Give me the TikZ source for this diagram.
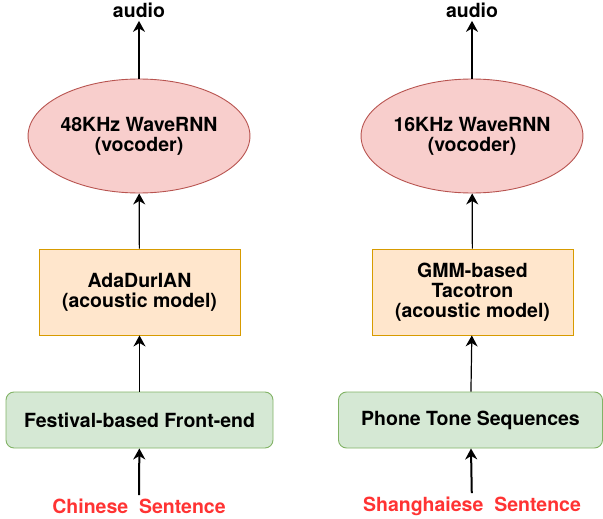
\documentclass[tikz,border=0pt]{standalone}
\usepackage{fontspec}
\setmainfont{TeX Gyre Heros}
\usetikzlibrary{shapes.geometric,arrows.meta}

\definecolor{vocfill}{HTML}{F8CECC}
\definecolor{vocline}{HTML}{B85450}
\definecolor{modfill}{HTML}{FFE6CC}
\definecolor{modline}{HTML}{D79B00}
\definecolor{fefill}{HTML}{D5E8D4}
\definecolor{feline}{HTML}{82B366}
\definecolor{senred}{HTML}{FF3333}

\tikzset{
  lbl/.style={font=\fontsize{19.5}{20}\selectfont\bfseries, align=center},
  vocoder/.style={lbl, ellipse, draw=vocline, fill=vocfill, inner sep=0pt,
    line width=0.9pt, minimum width=200pt, minimum height=114pt},
  acoustic/.style={lbl, rectangle, draw=modline, fill=modfill, inner sep=0pt,
    line width=0.9pt, minimum width=201pt, minimum height=86pt},
  frontend/.style={lbl, rectangle, rounded corners=8pt, draw=feline, fill=fefill,
    inner sep=0pt, line width=0.9pt, minimum height=56pt},
  flow/.style={-{Stealth[length=11pt,width=12pt,inset=3.5pt]}, line width=1.2pt},
}

\begin{document}
\begin{tikzpicture}[x=1pt,y=-1pt]
      \useasboundingbox (0,0) rectangle (603,519);
      % left: mandarin system
      \node[lbl] (audA) at (139,10) {audio};
      \node[vocoder] (vocA) at (139,136) {48KHz WaveRNN\\(vocoder)};
      \node[acoustic] (modA) at (139.5,292) {AdaDurIAN\\(acoustic model)};
      \node[frontend, minimum width=267pt] (feA) at (139.5,420) {Festival-based Front-end};
      \node[lbl, text=senred] (senA) at (139,506) {Chinese~ Sentence};
      % right: shanghainese system
      \node[lbl] (audB) at (472,10) {audio};
      \node[vocoder] (vocB) at (472,136) {16KHz WaveRNN\\(vocoder)};
      \node[acoustic] (modB) at (472.5,292) {GMM-based\\Tacotron\\(acoustic model)};
      \node[frontend, minimum width=264pt] (feB) at (470.5,420) {Phone Tone Sequences};
      \node[lbl, text=senred] (senB) at (472,506) {Shanghaiese~ Sentence};
      % arrows, bottom to top
      \draw[flow, line width=2pt] (senA) -- (feA);
      \draw[flow] (feA) -- (modA);
      \draw[flow] (modA) -- (vocA);
      \draw[flow] (vocA) -- (audA);
      \draw[flow, line width=2pt] (senB) -- (feB);
      \draw[flow] (feB) -- (modB);
      \draw[flow] (modB) -- (vocB);
      \draw[flow] (vocB) -- (audB);
\end{tikzpicture}
\end{document}
